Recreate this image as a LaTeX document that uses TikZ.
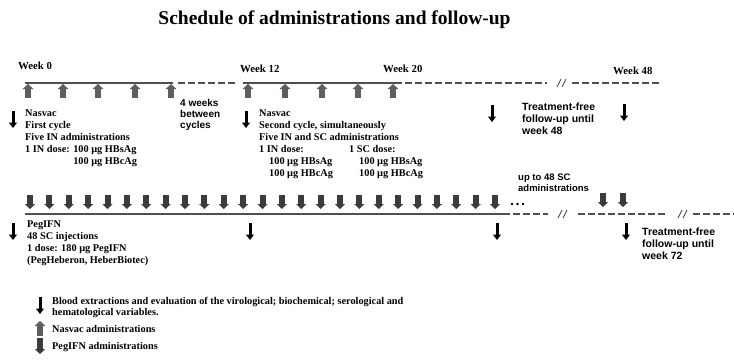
\documentclass[tikz,border=0pt]{standalone}
\usepackage{fontspec}
\setmainfont{Liberation Serif}
\setsansfont{Liberation Sans}
\usetikzlibrary{arrows.meta}

\definecolor{nasvacgray}{RGB}{95,95,95}
\definecolor{peggray}{RGB}{60,60,60}
\definecolor{linegray}{RGB}{80,80,80}

\begin{document}
\begin{tikzpicture}[
    x = 1pt, y = -1pt,
      title/.style={font=\bfseries\fontsize{19.5}{22}\selectfont, anchor=base, inner sep=0},
      week/.style={font=\bfseries\fontsize{10.8}{12}\selectfont, anchor=base west, inner sep=0},
      info/.style={font=\bfseries\fontsize{10.3}{12}\selectfont, align=left, anchor=north west, inner sep=0},
      note/.style={font=\sffamily\bfseries\fontsize{10}{11}\selectfont, align=left, anchor=north west, inner sep=0},
      timeline/.style={draw=linegray, line width=2pt},
      followup/.style={draw=linegray, line width=2.2pt, dash pattern=on 7pt off 3pt},
      cut/.style={draw=linegray, line width=0.9pt},
      nasvac/.style={draw=nasvacgray, line width=5.5pt, -{Triangle[width=10.5pt, length=5pt]}},
      pegifn/.style={draw=peggray, line width=6pt, -{Triangle[width=10pt, length=5pt]}},
      blood/.style={draw=black, line width=3pt, -{Triangle[width=8pt, length=5.5pt]}}
  ]
      \useasboundingbox (0,0) rectangle (734,362);

      % Title
      \node (title) at (334.5, 24) [title] {Schedule of administrations and follow-up};

      % Weeks
      \node (week0) at (18, 69) [week] {Week 0};
      \node (week12) at (240, 72) [week] {Week 12};
      \node (week20) at (383, 72) [week] {Week 20};
      \node (week48) at (613, 74) [week] {Week 48};

      % Nasvac time line
      \draw[timeline] (25, 83) -- (173, 83);
      \draw[followup] (178, 83) -- (237, 83);
      \draw[timeline] (243, 83) -- (395, 83);
      \draw[followup] (395, 83) -- (547, 83);
      \draw[cut] (557, 87) -- (561, 79) (562, 87) -- (566, 79);
      \draw[followup] (572, 83) -- (660, 83);
      \foreach \x in {28, 63, 98, 135, 171, 248, 285, 322, 358, 393}
        \draw[nasvac] (\x, 98) -- (\x, 84);

      % Blood extractions, first row
      \foreach \x/\y in {13/111, 246/111, 492/105, 624/104}
        \draw[blood] (\x, \y) -- (\x, \y+17);

      % Nasvac cycles
      \node (cycleOne) at (25, 110) [info] {Nasvac\\First cycle\\Five IN administrations\\1 IN dose: 100 µg HBsAg\\\phantom{1 IN dose: }100 µg HBcAg};
      \node (pause) at (180, 99) [note] {4 weeks\\between\\cycles};
      \node (cycleTwo) at (259, 110) [info] {Nasvac\\Second cycle, simultaneously\\Five IN and SC administrations};
      \node (doseIN) at (259, 145) [info] {1 IN dose:\\\hspace*{10pt}100 µg HBsAg\\\hspace*{10pt}100 µg HBcAg};
      \node (doseSC) at (349, 145) [info] {1 SC dose:\\\hspace*{10pt}100 µg HBsAg\\\hspace*{10pt}100 µg HBcAg};
      \node (freeOne) at (522, 103) [note, font=\sffamily\bfseries\fontsize{10.5}{12}\selectfont] {Treatment-free\\follow-up until\\week 48};
      \node (upto) at (518, 174) [note, font=\sffamily\bfseries\fontsize{9.5}{10.5}\selectfont] {up to 48 SC\\administrations};

      % PegIFN time line
      \draw[timeline] (25, 214) -- (503, 214);
      \fill[black] (512, 204) circle (1.4pt) (517.5, 204) circle (1.4pt) (523, 204) circle (1.4pt);
      \draw[followup] (503, 214) -- (548, 214);
      \draw[cut] (558, 218) -- (562, 210) (563, 218) -- (567, 210);
      \draw[followup] (578, 214) -- (667, 214);
      \draw[cut] (678, 218) -- (682, 210) (683, 218) -- (687, 210);
      \draw[followup] (693, 214) -- (734, 214);
      \foreach \i in {0,...,24}
        \draw[pegifn] ({30+19.375*\i}, 195) -- ({30+19.375*\i}, 209);
      \foreach \x in {603, 623}
        \draw[pegifn] (\x, 193) -- (\x, 207);

      % Blood extractions, second row
      \foreach \x in {13, 250, 497, 626}
        \draw[blood] (\x, 223) -- (\x, 240);

      % PegIFN
      \node (pegifn) at (27, 221) [info] {PegIFN\\48 SC injections\\1 dose: 180 µg PegIFN\\(PegHeberon, HeberBiotec)};
      \node (freeTwo) at (642, 228) [note, font=\sffamily\bfseries\fontsize{10.5}{12}\selectfont] {Treatment-free\\follow-up until\\week 72};

      % Legend
      \draw[blood] (40, 297) -- (40, 314);
      \node (keyBlood) at (52, 297) [info, font=\bfseries\fontsize{10.3}{11.5}\selectfont] {Blood extractions and evaluation of the virological; biochemical; serological and\\hematological variables.};
      \draw[nasvac] (40, 336) -- (40, 321);
      \node (keyNasvac) at (52, 325) [info] {Nasvac administrations};
      \draw[pegifn] (40, 338) -- (40, 354);
      \node (keyPeg) at (52, 342) [info] {PegIFN administrations};
  \end{tikzpicture}
\end{document}
